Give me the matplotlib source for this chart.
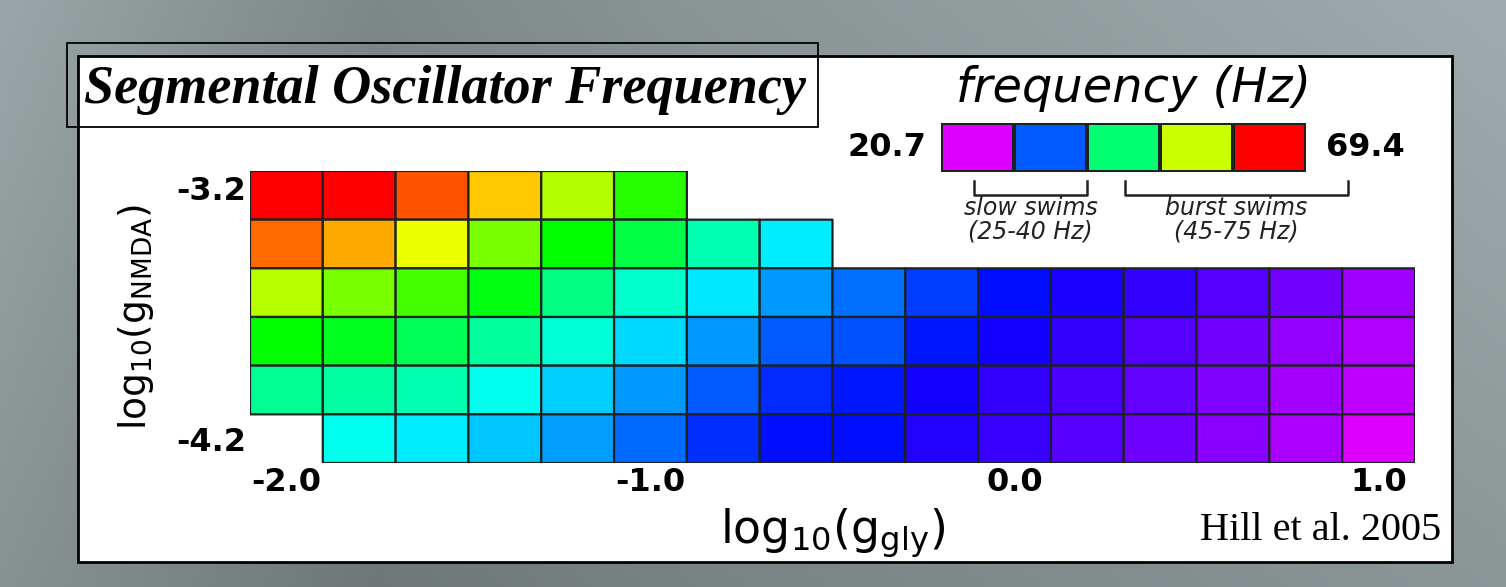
import numpy as np
import matplotlib.pyplot as plt
from matplotlib.colors import ListedColormap, Normalize, hsv_to_rgb
from matplotlib.patches import Rectangle
from matplotlib.transforms import ScaledTranslation

plt.rcParams['mathtext.default'] = 'regular'

# grid of parameters (cell centres)
g_gly = [-2.0, -1.8, -1.6, -1.4, -1.2, -1.0, -0.8, -0.6,
         -0.4, -0.2, 0.0, 0.2, 0.4, 0.6, 0.8, 1.0]
g_nmda = [-3.2, -3.4, -3.6, -3.8, -4.0, -4.2]

nan = np.nan
# oscillator frequency (Hz), one list per g_NMDA row
freq_m32 = [69.4, 69.4, 66.1, 61.6, 56.4, 50.9, nan, nan,
            nan, nan, nan, nan, nan, nan, nan, nan]
freq_m34 = [65.1, 62.6, 58.7, 54.1, 49.4, 46.7, 42.5, 38.7,
            nan, nan, nan, nan, nan, nan, nan, nan]
freq_m36 = [56.6, 54.1, 51.9, 48.7, 44.2, 41.5, 38.5, 35.5,
            33.7, 31.9, 30.0, 28.4, 27.5, 26.2, 25.0, 23.2]
freq_m38 = [49.4, 48.1, 46.1, 43.2, 40.9, 37.9, 35.4, 33.0,
            32.5, 30.4, 28.7, 27.5, 26.2, 25.0, 23.7, 22.5]
freq_m40 = [43.7, 43.0, 42.5, 40.0, 37.5, 35.4, 33.0, 31.0,
            30.4, 28.7, 27.5, 26.5, 25.5, 24.4, 23.0, 21.9]
freq_m42 = [nan, 40.0, 38.7, 37.2, 35.7, 33.5, 31.2, 30.0,
            30.0, 28.0, 27.2, 26.2, 25.2, 24.0, 22.7, 20.7]

f_min, f_max = 20.7, 69.4
x_ticks = [-2.0, -1.0, 0.0, 1.0]
x_ticklabels = ['-2.0', '-1.0', '0.0', '1.0']
y_ticks = [-3.2, -4.2]
y_ticklabels = ['-3.2', '-4.2']
swim_labels = ['slow swims\n(25-40 Hz)', 'burst swims\n(45-75 Hz)']

# rainbow: red (fast) -> magenta-purple (slow)
hues = np.linspace(292 / 360, 0, 256)
cmap = ListedColormap(hsv_to_rgb(np.column_stack([hues, np.ones(256), np.ones(256)])))
norm = Normalize(f_min, f_max)

W, H = 1506, 587
fig = plt.figure(figsize=(W / 100, H / 100), dpi=100)

# grey slide background
bg = fig.add_axes([0, 0, 1, 1])
xs = np.linspace(0, 1, 400)
prof = np.interp(xs, [0, 0.12, 0.25, 0.45, 0.7, 1.0], [0.65, 0.59, 0.53, 0.58, 0.62, 0.67])
ys = np.linspace(0, 1, 100)[:, None]
shade = prof[None, :] * (0.88 + 0.12 * ys)
rgb = np.dstack([shade * 0.93, shade * 1.0, shade * 1.01]).clip(0, 1)
bg.imshow(rgb, aspect='auto', extent=[0, 1, 0, 1], origin='lower')
bg.set_xlim(0, 1)
bg.set_ylim(0, 1)
bg.axis('off')

# white panel and title box (in pixel coords of the slide)
def px(x0, y0, x1, y1):
    return (x0 / W, 1 - y1 / H), (x1 - x0) / W, (y1 - y0) / H

xy, w, h = px(78, 56, 1452, 562)
bg.add_patch(Rectangle(xy, w, h, facecolor='white', edgecolor='black', lw=2.0))
xy, w, h = px(67, 43, 818, 127)
bg.add_patch(Rectangle(xy, w, h, facecolor='none', edgecolor='black', lw=1.3, zorder=5))
bg.text(84 / W, 1 - 103 / H, 'Segmental Oscillator Frequency', family='Liberation Serif',
        weight='bold', style='italic', fontsize=39, va='baseline', ha='left')
bg.text(1441 / W, 1 - 540 / H, 'Hill et al. 2005', family='Liberation Serif',
        fontsize=29, va='baseline', ha='right')

# frequency map
ax = fig.add_axes([250 / W, 1 - 463 / H, 1165 / W, 292 / H])
Z = np.ma.masked_invalid(np.array([freq_m32, freq_m34, freq_m36, freq_m38, freq_m40, freq_m42]))
gx = np.array(g_gly)
gy = np.array(g_nmda)
x_edges = np.append(gx - 0.1, gx[-1] + 0.1)
y_edges = np.append(gy + 0.1, gy[-1] - 0.1)
ax.pcolor(x_edges, y_edges, Z, cmap=cmap, norm=norm, edgecolors='#1c2222', linewidth=1.6)
ax.set_xlim(x_edges[0], x_edges[-1])
ax.set_ylim(y_edges[-1], y_edges[0])
ax.set_facecolor('none')
for s in ax.spines.values():
    s.set_visible(False)
ax.set_xticks(x_ticks, x_ticklabels, family='DejaVu Sans', weight='bold', fontsize=23)
ax.set_yticks(y_ticks, y_ticklabels, family='DejaVu Sans', weight='bold', fontsize=23)
ax.tick_params(length=0, pad=3)
# the top label sits a little above its row centre in the original
top_lab = ax.get_yticklabels()[0]
top_lab.set_transform(top_lab.get_transform() + ScaledTranslation(0, 0.07, fig.dpi_scale_trans))
ax.set_xlabel('$log_{10}(g_{gly})$', fontsize=33, labelpad=6)
ax.set_ylabel('$log_{10}(g_{NMDA})$', fontsize=27, labelpad=14)

# colour key
cax = fig.add_axes([941 / W, 1 - 172 / H, 365 / W, 49 / H])
key_vals = np.linspace(f_min, f_max, 5)
cax.pcolormesh(np.arange(6), [0, 1], key_vals[None, :], cmap=cmap, norm=norm,
               edgecolors='#1c2222', linewidth=1.6)
cax.set_xlim(0, 5)
cax.set_ylim(0, 1)
cax.axis('off')
bg.text(1133 / W, 1 - 89 / H, 'frequency (Hz)', style='italic', fontsize=34.5,
        ha='center', va='center')
bg.text(926 / W, 1 - 147 / H, f'{f_min}', weight='bold', fontsize=23, ha='right', va='center')
bg.text(1326 / W, 1 - 147 / H, f'{f_max}', weight='bold', fontsize=23, ha='left', va='center')

# swim-type brackets
for (x0, x1), lab in zip([(974, 1087), (1125, 1348)], swim_labels):
    bg.plot([x0 / W, x0 / W, x1 / W, x1 / W], [1 - 181 / H, 1 - 195 / H, 1 - 195 / H, 1 - 181 / H],
            color='#222222', lw=1.8)
    bg.text((x0 + x1) / 2 / W, 1 - 220 / H, lab, style='italic', fontsize=17, linespacing=0.95,
            ha='center', va='center', multialignment='center', color='#222222')

fig.savefig('out.png', dpi=100)
